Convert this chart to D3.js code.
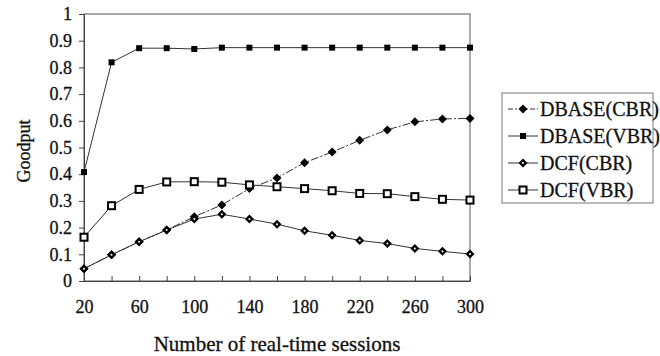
<!DOCTYPE html>
<html>
<head>
<meta charset="utf-8">
<script src="https://cdn.jsdelivr.net/npm/d3@7/dist/d3.min.js"></script>
<style>
  html, body { margin: 0; padding: 0; background: #fff; }
  svg text { font-family: "Liberation Serif", "Times New Roman", serif; fill: #111; stroke: #111; stroke-width: 0.3px; }
</style>
</head>
<body>
<svg id="chart" width="660" height="356"></svg>
<script>
// Goodput vs. number of real-time sessions
const sessions = [20, 40, 60, 80, 100, 120, 140, 160, 180, 200, 220, 240, 260, 280, 300];
const dbaseCBR = [0.046, 0.098, 0.147, 0.191, 0.241, 0.285, 0.346, 0.386, 0.443, 0.483, 0.527, 0.566, 0.596, 0.607, 0.609];
const dbaseVBR = [0.408, 0.819, 0.872, 0.872, 0.869, 0.874, 0.874, 0.874, 0.874, 0.874, 0.874, 0.874, 0.874, 0.874, 0.874];
const dcfCBR   = [0.046, 0.098, 0.147, 0.191, 0.232, 0.250, 0.232, 0.213, 0.188, 0.171, 0.152, 0.140, 0.122, 0.111, 0.101];
const dcfVBR   = [0.164, 0.282, 0.343, 0.371, 0.372, 0.370, 0.360, 0.353, 0.346, 0.338, 0.328, 0.327, 0.316, 0.306, 0.303];
const xTickLabels = [20, 60, 100, 140, 180, 220, 260, 300];
const yTickValues = [0, 0.1, 0.2, 0.3, 0.4, 0.5, 0.6, 0.7, 0.8, 0.9, 1];
const seriesNames = ["DBASE(CBR)", "DBASE(VBR)", "DCF(CBR)", "DCF(VBR)"];

const svg = d3.select("#chart");
const plot = { left: 84, right: 470, top: 14, bottom: 281 };

const x = d3.scaleLinear().domain([20, 300]).range([plot.left, plot.right]);
const y = d3.scaleLinear().domain([0, 1]).range([plot.bottom, plot.top]);

// frame
svg.append("rect")
  .attr("x", plot.left).attr("y", plot.top)
  .attr("width", plot.right - plot.left).attr("height", plot.bottom - plot.top)
  .attr("fill", "none").attr("stroke", "#555").attr("stroke-width", 1);

// y axis (ticks outward)
const yAxis = svg.append("g")
  .attr("transform", `translate(${plot.left},0)`)
  .call(d3.axisLeft(y).tickValues(yTickValues).tickSize(5).tickPadding(7)
    .tickFormat(d => d === 0 || d === 1 ? String(d) : d3.format(".1f")(d)));
yAxis.select(".domain").attr("stroke", "#444");
yAxis.selectAll(".tick line").attr("stroke", "#444");
yAxis.selectAll("text").attr("font-size", 18);

// x axis (ticks inward, every 20; labels every 40)
const xAxis = svg.append("g")
  .attr("transform", `translate(0,${plot.bottom})`)
  .call(d3.axisBottom(x).tickValues(sessions).tickSize(-5).tickPadding(19)
    .tickFormat(d => xTickLabels.includes(d) ? String(d) : ""));
xAxis.select(".domain").attr("stroke", "#444");
xAxis.selectAll(".tick line").attr("stroke", "#444");
xAxis.selectAll("text").attr("font-size", 18);

// axis titles
svg.append("text")
  .attr("x", (plot.left + plot.right) / 2).attr("y", 351)
  .attr("text-anchor", "middle").attr("font-size", 21)
  .text("Number of real-time sessions");
svg.append("text")
  .attr("transform", "translate(30,151) rotate(-90)")
  .attr("text-anchor", "middle").attr("font-size", 18)
  .text("Goodput");

// marker drawers
function marker(g, kind) {
  if (kind === "diamond") {
    g.append("path").attr("d", "M0,-4.5L4.5,0L0,4.5L-4.5,0Z").attr("fill", "#000");
  } else if (kind === "diamondDot") {
    g.append("path").attr("d", "M0,-4.5L4.5,0L0,4.5L-4.5,0Z").attr("fill", "#000");
    g.append("circle").attr("r", 1).attr("fill", "#fff");
  } else if (kind === "square") {
    g.append("rect").attr("x", -3).attr("y", -3).attr("width", 6).attr("height", 6).attr("fill", "#000");
  } else if (kind === "squareOpen") {
    g.append("rect").attr("x", -3.5).attr("y", -3.5).attr("width", 7).attr("height", 7)
      .attr("fill", "#fff").attr("stroke", "#000").attr("stroke-width", 2);
  }
}

const series = [
  { name: seriesNames[0], values: dbaseCBR, kind: "diamond", dash: "8,2,2,2" },
  { name: seriesNames[1], values: dbaseVBR, kind: "square", dash: null },
  { name: seriesNames[2], values: dcfCBR, kind: "diamondDot", dash: null },
  { name: seriesNames[3], values: dcfVBR, kind: "squareOpen", dash: null }
];

const line = d3.line().x(d => x(d[0])).y(d => y(d[1]));

series.forEach(s => {
  const pts = sessions.map((v, i) => [v, s.values[i]]);
  svg.append("path")
    .attr("d", line(pts))
    .attr("fill", "none").attr("stroke", "#333").attr("stroke-width", 1)
    .attr("stroke-dasharray", s.dash);
  svg.append("g").selectAll("g").data(pts).join("g")
    .attr("transform", d => `translate(${x(d[0])},${y(d[1])})`)
    .each(function () { marker(d3.select(this), s.kind); });
});

// legend
const lg = svg.append("g");
lg.append("rect").attr("x", 502).attr("y", 93).attr("width", 151).attr("height", 110)
  .attr("fill", "#fff").attr("stroke", "#777").attr("stroke-width", 1);
series.forEach((s, i) => {
  const cy = 109 + i * 27;
  lg.append("line").attr("x1", 508).attr("x2", 538).attr("y1", cy).attr("y2", cy)
    .attr("stroke", "#333").attr("stroke-width", 1).attr("stroke-dasharray", s.dash ? "5,2,2,2" : null);
  const m = lg.append("g").attr("transform", `translate(523,${cy})`);
  marker(m, s.kind);
  lg.append("text").attr("x", 540).attr("y", cy + 7).attr("font-size", 20).text(s.name);
});
</script>
</body>
</html>
